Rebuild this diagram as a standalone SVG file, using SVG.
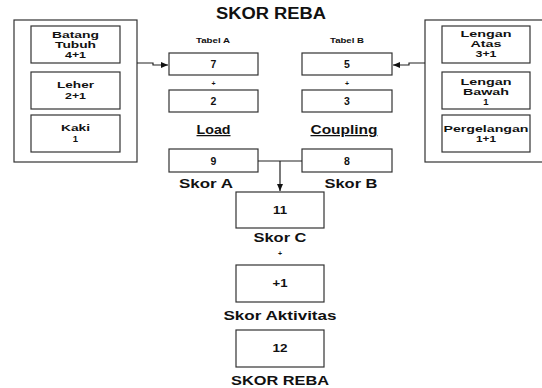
<svg xmlns="http://www.w3.org/2000/svg" width="542" height="388" viewBox="0 0 542 388">
<defs>
<marker id="arr" markerWidth="8" markerHeight="8" refX="7" refY="4" orient="auto" markerUnits="userSpaceOnUse">
<path d="M0,1 L7,4 L0,7 Z" fill="#111"/>
</marker>
<style>
rect{fill:#fff;stroke:#333;stroke-width:1.2}
text{font-family:"Liberation Sans",Arial,sans-serif;font-weight:bold;fill:#111;text-anchor:middle}
.s{font-size:9.5px}
.t{font-size:7px}
.n{font-size:10.5px}
.l{font-size:12.5px}
.c{stroke:#222;stroke-width:1.2;fill:none}
</style>
</defs>
<rect width="542" height="388" style="fill:#fff;stroke:none"/>
<text x="271" y="19" style="font-size:16px" textLength="110" lengthAdjust="spacingAndGlyphs">SKOR REBA</text>

<g id="left-group">
<rect x="14" y="20" width="123" height="142"/>
<g id="batang"><rect x="31" y="26" width="89" height="37"/>
<text class="s" x="75.5" y="37.5" textLength="47" lengthAdjust="spacingAndGlyphs">Batang</text>
<text class="s" x="75.5" y="47.5" textLength="41" lengthAdjust="spacingAndGlyphs">Tubuh</text>
<text class="s" x="75.5" y="57.5" textLength="21" lengthAdjust="spacingAndGlyphs">4+1</text></g>
<g id="leher"><rect x="31" y="72" width="89" height="37"/>
<text class="s" x="75.5" y="87.5" textLength="37" lengthAdjust="spacingAndGlyphs">Leher</text>
<text class="s" x="75.5" y="98.5" textLength="21" lengthAdjust="spacingAndGlyphs">2+1</text></g>
<g id="kaki"><rect x="31" y="115" width="89" height="37"/>
<text class="s" x="75.5" y="131" textLength="29" lengthAdjust="spacingAndGlyphs">Kaki</text>
<text class="s" x="75.5" y="142">1</text></g>
</g>

<g id="right-group">
<rect x="425" y="20" width="125" height="142"/>
<g id="lengan-atas"><rect x="442" y="26" width="88" height="37"/>
<text class="s" x="486" y="37" textLength="51" lengthAdjust="spacingAndGlyphs">Lengan</text>
<text class="s" x="486" y="47" textLength="31" lengthAdjust="spacingAndGlyphs">Atas</text>
<text class="s" x="486" y="57" textLength="21" lengthAdjust="spacingAndGlyphs">3+1</text></g>
<g id="lengan-bawah"><rect x="442" y="72" width="88" height="37"/>
<text class="s" x="486" y="85" textLength="51" lengthAdjust="spacingAndGlyphs">Lengan</text>
<text class="s" x="486" y="95" textLength="46" lengthAdjust="spacingAndGlyphs">Bawah</text>
<text class="s" x="486" y="105">1</text></g>
<g id="pergelangan"><rect x="442" y="115" width="88" height="37"/>
<text class="s" x="486" y="131.5" textLength="85" lengthAdjust="spacingAndGlyphs">Pergelangan</text>
<text class="s" x="486" y="141.5" textLength="20" lengthAdjust="spacingAndGlyphs">1+1</text></g>
</g>

<g id="tabel-a">
<text class="t" x="213" y="43" textLength="34" lengthAdjust="spacingAndGlyphs">Tabel A</text>
<rect x="169" y="53" width="89" height="22"/>
<text class="n" x="213.5" y="68">7</text>
</g>
<text class="t" x="213.5" y="86">+</text>
<g id="load">
<rect x="169" y="90" width="89" height="22"/>
<text class="n" x="213.5" y="105">2</text>
</g>
<text class="l" x="213.5" y="134" text-decoration="underline" textLength="34" lengthAdjust="spacingAndGlyphs">Load</text>
<g id="skor-a">
<rect x="169" y="149" width="89" height="23"/>
<text class="n" x="213.5" y="164.5">9</text>
<text class="l" x="206" y="187.5" textLength="54" lengthAdjust="spacingAndGlyphs">Skor A</text>
</g>

<g id="tabel-b">
<text class="t" x="347" y="43" textLength="34" lengthAdjust="spacingAndGlyphs">Tabel B</text>
<rect x="302" y="53" width="90" height="22"/>
<text class="n" x="347" y="68">5</text>
</g>
<text class="t" x="347" y="86">+</text>
<g id="coupling">
<rect x="302" y="90" width="90" height="22"/>
<text class="n" x="347" y="105">3</text>
</g>
<text class="l" x="344" y="134" text-decoration="underline" textLength="67" lengthAdjust="spacingAndGlyphs">Coupling</text>
<g id="skor-b">
<rect x="302" y="149" width="90" height="23"/>
<text class="n" x="347" y="164.5">8</text>
<text class="l" x="351" y="187.5" textLength="53" lengthAdjust="spacingAndGlyphs">Skor B</text>
</g>

<g id="skor-c">
<rect x="236" y="192" width="88" height="36"/>
<text class="n" x="280" y="214" textLength="14" lengthAdjust="spacingAndGlyphs">11</text>
<text class="l" x="280" y="242" textLength="53" lengthAdjust="spacingAndGlyphs">Skor C</text>
</g>
<text class="t" x="280" y="256">+</text>
<g id="aktivitas">
<rect x="236" y="265" width="88" height="37"/>
<text class="n" x="280" y="287" textLength="15" lengthAdjust="spacingAndGlyphs">+1</text>
<text class="l" x="280" y="320" textLength="113" lengthAdjust="spacingAndGlyphs">Skor Aktivitas</text>
</g>
<g id="reba">
<rect x="236" y="330" width="88" height="37"/>
<text class="n" x="280" y="351.5" textLength="15" lengthAdjust="spacingAndGlyphs">12</text>
<text class="l" x="280" y="385" textLength="98" lengthAdjust="spacingAndGlyphs">SKOR REBA</text>
</g>

<g id="connectors">
<path class="c" d="M137,63 H153 V65 H168" marker-end="url(#arr)"/>
<path class="c" d="M425,63 H409 V65 H393" marker-end="url(#arr)"/>
<path class="c" d="M258,161 H302"/>
<path class="c" d="M280,161 V191" marker-end="url(#arr)"/>
</g>
</svg>
